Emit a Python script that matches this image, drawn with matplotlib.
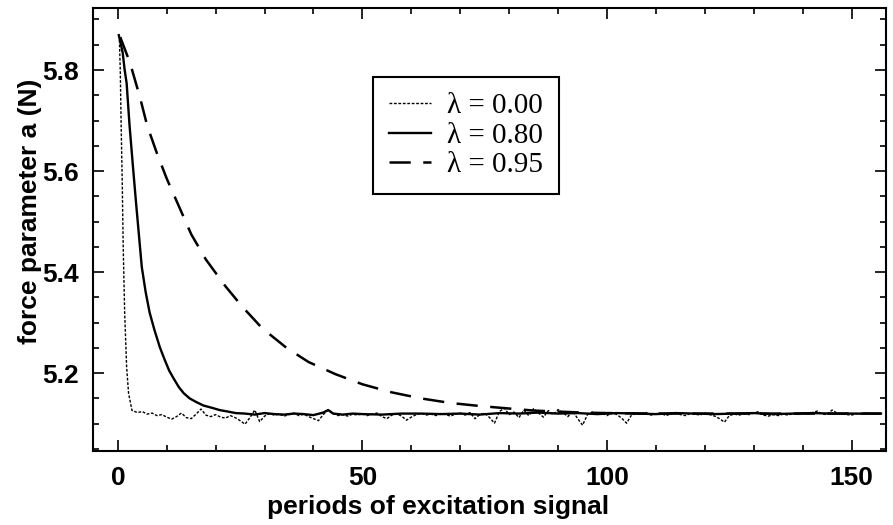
import numpy as np
import matplotlib
matplotlib.use("Agg")
import matplotlib.pyplot as plt
from matplotlib.ticker import MultipleLocator

# lambda = 0.00 : fast drop, then noisy steady state
x_fast = [0.3, 0.5, 0.7, 0.9, 1.1, 1.4, 1.8, 2.2, 2.9]
y_fast = [5.868, 5.80, 5.68, 5.58, 5.45, 5.32, 5.212, 5.16, 5.126]
x_noise = list(range(3, 157))
y_noise = [5.126, 5.122, 5.124, 5.119, 5.121, 5.116, 5.118, 5.113, 5.109, 5.114,
           5.121, 5.112, 5.110, 5.119, 5.129, 5.117, 5.114, 5.118, 5.113, 5.111,
           5.116, 5.112, 5.106, 5.099, 5.112, 5.127, 5.104, 5.115, 5.120, 5.117,
           5.119, 5.115, 5.118, 5.121, 5.116, 5.119, 5.114, 5.110, 5.106, 5.118,
           5.128, 5.121, 5.116, 5.118, 5.115, 5.119, 5.117, 5.120, 5.116, 5.119,
           5.121, 5.114, 5.110, 5.117, 5.120, 5.115, 5.107, 5.113, 5.118, 5.121,
           5.117, 5.119, 5.116, 5.120, 5.118, 5.115, 5.119, 5.121, 5.117, 5.122,
           5.110, 5.118, 5.121, 5.112, 5.101, 5.124, 5.131, 5.118, 5.123, 5.112,
           5.127, 5.116, 5.130, 5.121, 5.113, 5.126, 5.118, 5.128, 5.122, 5.114,
           5.125, 5.110, 5.097, 5.118, 5.123, 5.119, 5.121, 5.116, 5.122, 5.118,
           5.111, 5.101, 5.117, 5.120, 5.118, 5.122, 5.117, 5.119, 5.121, 5.116,
           5.119, 5.122, 5.118, 5.116, 5.120, 5.119, 5.117, 5.121, 5.118, 5.115,
           5.110, 5.103, 5.116, 5.119, 5.117, 5.120, 5.118, 5.121, 5.124, 5.117,
           5.115, 5.118, 5.116, 5.119, 5.117, 5.120, 5.118, 5.121, 5.119, 5.122,
           5.125, 5.119, 5.118, 5.127, 5.121, 5.119, 5.118, 5.117, 5.120, 5.119,
           5.121, 5.120, 5.120, 5.120]

# lambda = 0.80
x_mid = [0.2, 0.6, 1.0, 1.4, 1.8, 2.4, 3.1, 3.7, 4.3, 4.9, 5.7, 6.5, 7.5, 8.6,
         9.6, 10.5, 11.5, 12.5, 13.5, 14.7, 16.0, 17.5, 19.4, 20.8, 22.5, 24.1,
         26, 28, 30, 32, 34, 36, 38, 40, 42, 43, 44, 46, 48,
         50, 54, 58, 62, 66, 70, 74, 78, 82, 86, 90, 94, 98, 102, 106, 110, 114,
         118, 122, 126, 130, 134, 138, 142, 146, 150, 156]
y_mid = [5.869, 5.852, 5.834, 5.800, 5.774, 5.690, 5.608, 5.540, 5.475, 5.410,
         5.360, 5.320, 5.285, 5.251, 5.226, 5.205, 5.188, 5.172, 5.160, 5.150,
         5.143, 5.136, 5.131, 5.127, 5.124, 5.121,
         5.120, 5.118, 5.121, 5.119,
         5.118, 5.120, 5.119, 5.117, 5.122, 5.127, 5.120, 5.118, 5.120, 5.119,
         5.118, 5.120, 5.120, 5.119, 5.120, 5.118, 5.121, 5.120, 5.122, 5.120,
         5.121, 5.119, 5.121, 5.120, 5.119, 5.121, 5.120, 5.119, 5.120, 5.121,
         5.119, 5.120, 5.121, 5.120, 5.120, 5.120]

# lambda = 0.95
x_slow = [0.5, 2.5, 4.5, 6, 8, 10, 12.5, 15, 18, 22, 25.5, 29.5, 34.5, 39,
          44.5, 50, 56, 62, 68, 74, 80, 85, 90, 95, 100, 110, 120, 130, 140,
          150, 156]
y_slow = [5.865, 5.814, 5.747, 5.690, 5.635, 5.585, 5.530, 5.475, 5.425, 5.372,
          5.331, 5.289, 5.250, 5.222, 5.198, 5.178, 5.162, 5.150, 5.141, 5.135,
          5.130, 5.126, 5.124, 5.122, 5.121, 5.120, 5.120, 5.120, 5.120, 5.120,
          5.120]

labels = ["λ = 0.00", "λ = 0.80", "λ = 0.95"]

sans = ["Liberation Sans", "DejaVu Sans"]

fig = plt.figure(figsize=(8.93, 5.25), dpi=100)
ax = fig.add_axes([0.104, 0.141, 0.888, 0.844])

ax.plot(x_fast + x_noise, y_fast + y_noise, color="black", lw=1.0,
        dashes=(2, 1.2), label=labels[0])
ax.plot(x_mid, y_mid, color="black", lw=1.7, label=labels[1])
ax.plot(x_slow, y_slow, color="black", lw=1.8, dashes=(8.5, 5), label=labels[2])

ax.set_xlim(-5.1, 157)
ax.set_ylim(5.046, 5.923)
ax.xaxis.set_major_locator(MultipleLocator(50))
ax.xaxis.set_minor_locator(MultipleLocator(10))
ax.yaxis.set_major_locator(MultipleLocator(0.2))
ax.yaxis.set_minor_locator(MultipleLocator(0.05))
ax.tick_params(which="both", direction="in", top=True, right=True, width=1.2)
ax.tick_params(which="major", length=8)
ax.tick_params(which="minor", length=4)
ax.tick_params(axis="x", which="major", pad=11)
ax.tick_params(axis="y", which="major", pad=10)
for s in ax.spines.values():
    s.set_linewidth(1.5)

for t in ax.get_xticklabels() + ax.get_yticklabels():
    t.set_family(sans)
    t.set_fontsize(19)
    t.set_fontweight("bold")

ax.set_xlabel("periods of excitation signal", family=sans, fontsize=19,
              fontweight="bold")
ax.xaxis.set_label_coords(0.435, -0.1)
ax.set_ylabel("force parameter a (N)", family=sans, fontsize=19,
              fontweight="bold")
ax.yaxis.set_label_coords(-0.064, 0.54)

leg = ax.legend(loc="upper left", bbox_to_anchor=(0.353, 0.844), borderaxespad=0,
                prop={"family": "Liberation Serif", "size": 21}, fancybox=False,
                edgecolor="black", framealpha=1, handlelength=1.45,
                labelspacing=0.1, borderpad=0.55, handletextpad=0.55)
leg.get_frame().set_linewidth(1.5)

fig.savefig("out.png", dpi=100)
